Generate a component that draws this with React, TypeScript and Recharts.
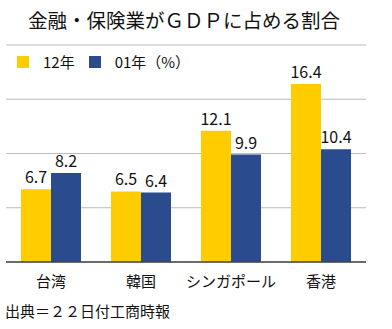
import { BarChart, Bar, XAxis, YAxis, CartesianGrid, LabelList } from 'recharts';

const categories = ['台湾', '韓国', 'シンガポール', '香港'];
const values2012 = [6.7, 6.5, 12.1, 16.4];
const values2001 = [8.2, 6.4, 9.9, 10.4];
const yTicks = [0, 5, 10, 15, 20];

const data = categories.map((name, i) => ({ name, y12: values2012[i], y01: values2001[i] }));

const FONT = '"Noto Sans CJK JP", "Noto Sans", sans-serif';
const YELLOW = '#FFCC00';
const BLUE = '#2B4B8F';

function LegendBox() {
  const item = (color: string, label: string) => (
    <div style={{ display: 'flex', alignItems: 'center', marginRight: 14 }}>
      <div style={{ width: 12, height: 12, background: color, marginRight: 14 }} />
      <span style={{ fontSize: 15, color: '#111' }}>{label}</span>
    </div>
  );
  return (
    <div style={{ position: 'absolute', top: 51, left: 17, display: 'flex', fontFamily: FONT }}>
      {item(YELLOW, '12年')}
      {item(BLUE, '01年（%）')}
    </div>
  );
}

function CategoryTick({ x, y, payload }: any) {
  return (
    <text x={x} y={y + 17} textAnchor="middle" fontSize={15} fill="#111" fontFamily={FONT}>
      {payload.value}
    </text>
  );
}

export default function App() {
  return (
    <div style={{ position: 'absolute', top: 0, left: 0, width: 392, height: 329, background: '#fff', fontFamily: FONT }}>
      <BarChart width={392} height={329} data={data}
        margin={{ top: 45, right: 26, left: 6, bottom: 37 }}
        barCategoryGap={15} barGap={0}>
        <CartesianGrid vertical={false} stroke="#bbbbbb" strokeWidth={1} />
        <YAxis hide domain={[0, 20]} ticks={yTicks} />
        <XAxis dataKey="name" height={30} axisLine={{ stroke: '#444', strokeWidth: 1.5 }} tickLine={false} tick={<CategoryTick />} interval={0} />
        <Bar dataKey="y12" fill={YELLOW} isAnimationActive={false}>
          <LabelList dataKey="y12" position="top" offset={6} fontSize={16} fill="#111" fontFamily={FONT} />
        </Bar>
        <Bar dataKey="y01" fill={BLUE} isAnimationActive={false}>
          <LabelList dataKey="y01" position="top" offset={6} fontSize={16} fill="#111" fontFamily={FONT} />
        </Bar>
      </BarChart>
      <div style={{ position: 'absolute', top: 5, left: 28, fontSize: 19.5, color: '#111', whiteSpace: 'nowrap' }}>
        金融・保険業がＧＤＰに占める割合
      </div>
      <LegendBox />
      <div style={{ position: 'absolute', top: 300, left: 5, fontSize: 15, color: '#111', whiteSpace: 'nowrap' }}>
        出典＝２２日付工商時報
      </div>
    </div>
  );
}
